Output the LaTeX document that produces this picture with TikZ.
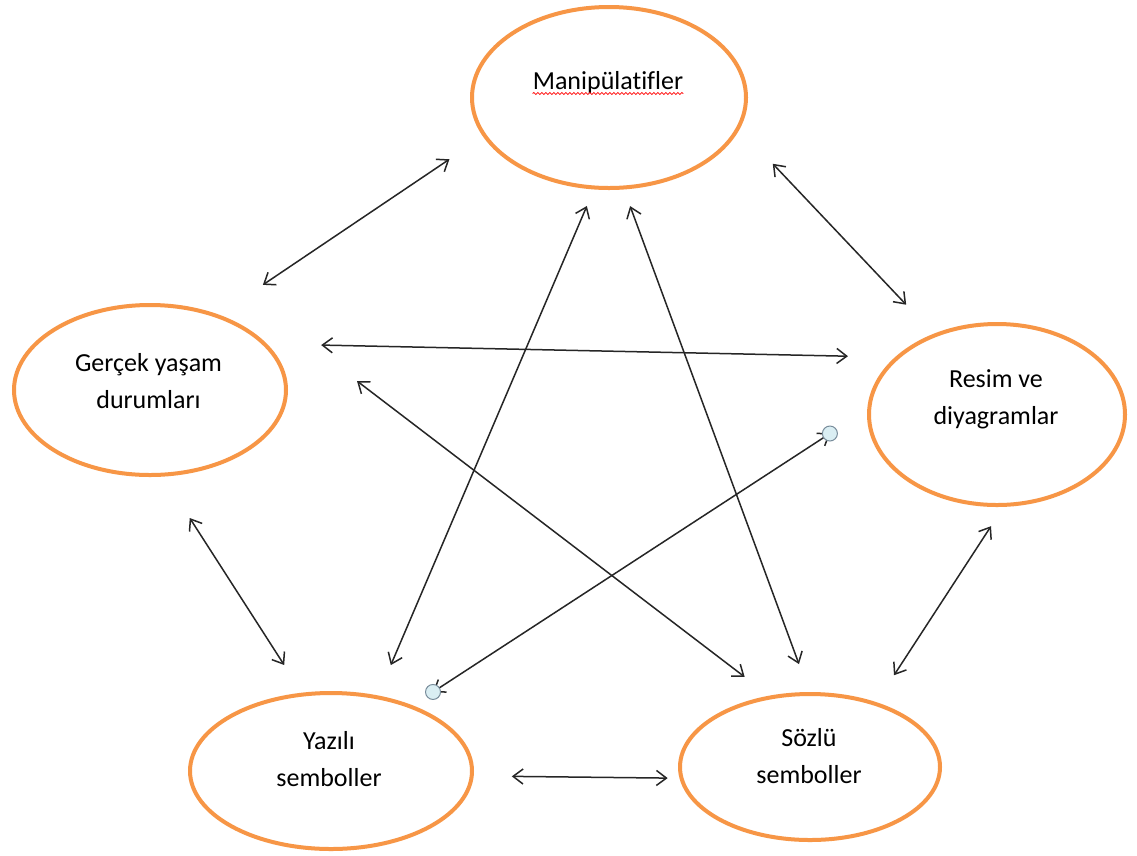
\documentclass[tikz,border=0pt]{standalone}
\usepackage{fontspec}
\setmainfont{Carlito}[Ligatures=NoCommon]
\usepackage{tikz}
\usetikzlibrary{
        arrows.meta,
        calc,
        decorations.pathmorphing,
        shapes.geometric
    }
\definecolor{ringorange}{RGB}{247,150,70}
\definecolor{handlefill}{RGB}{218,238,243}
\definecolor{handleline}{RGB}{120,140,155}
\tikzset{>={Straight Barb[length=10pt,width=15pt]}}
\tikzset{bubble/.style={ellipse,draw=ringorange,line width=4pt,inner sep=0pt,outer sep=0pt}}
\tikzset{lbl/.style={inner sep=0pt,align=center,anchor=base,font=\fontsize{26}{36.7}\selectfont}}
\tikzset{link/.style={<->,line width=1.5pt,draw=black!85}}
\tikzset{handle/.style={circle,draw=handleline,fill=handlefill,line width=1pt,minimum size=15pt,inner sep=0pt}}
\tikzset{squiggle/.style={red,line width=0.8pt,decorate,decoration={snake,amplitude=1pt,segment length=4pt}}}

\begin{document}
\begin{tikzpicture}[x=1pt,y=-1pt]
    \fill[white] (0,0) rectangle (1137,855);
    \useasboundingbox (0,0) rectangle (1137,855);
                \node[bubble,minimum width=274pt,minimum height=181pt] (man) at (609,97.5) {};
                \node[bubble,minimum width=272pt,minimum height=170pt] (ger) at (150,390) {};
                \node[bubble,minimum width=256pt,minimum height=181pt] (res) at (997,414.5) {};
                \node[bubble,minimum width=282pt,minimum height=156pt] (yaz) at (331,771) {};
                \node[bubble,minimum width=260pt,minimum height=146pt] (soz) at (810,767) {};
                % two-line labels sit on the baseline of their last line
                \node[lbl] (mant) at (608,89.5) {Manipülatifler};
                \node[lbl] (gert) at (148.5,408.3) {Gerçek yaşam\\durumları};
                \node[lbl] (rest) at (996,424) {Resim ve\\diyagramlar};
                \node[lbl] (yazt) at (329,786) {Yazılı\\semboller};
                \node[lbl] (sozt) at (809,783.3) {Sözlü\\semboller};
            \draw[squiggle] ([yshift=-4pt]mant.base west) -- ([yshift=-4pt]mant.base east);
            \coordinate (gs) at ($(ger.east)+(71,-9)$);
            \draw[link,shorten <=42.5pt,shorten >=55.7pt] (man.197.5) -- (ger.48);
            \draw[link,shorten <=50.1pt,shorten >=42.1pt] (man.347.5) -- (res.128.8);
            \draw[link,shorten <=57pt,shorten >=49.9pt] (ger.22.1) -- (res.150.6);
            \draw[link,shorten >=33.6pt] (gs) -- (soz.119.5);
            \draw[link,shorten <=20.1pt,shorten >=35pt] (man.261.1) -- (yaz.58.6);
            \draw[link,shorten <=19.8pt,shorten >=31.9pt] (man.279.6) -- (soz.90.9);
            \draw[link,shorten <=46.9pt,shorten >=26.8pt] (res.177.3) -- (yaz.39)
                node[handle,pos=0.086] (h1) {} node[handle,pos=0.951] (h2) {};
            \draw[link,shorten <=51.5pt,shorten >=35.1pt] (ger.278.3) -- (yaz.110.2);
            \draw[link,shorten <=25.5pt,shorten >=34.2pt] (res.275.8) -- (soz.44.7);
            \draw[link,shorten <=40.1pt,shorten >=13.9pt] (yaz.358.8) -- (soz.185.5);
\end{tikzpicture}
\end{document}
